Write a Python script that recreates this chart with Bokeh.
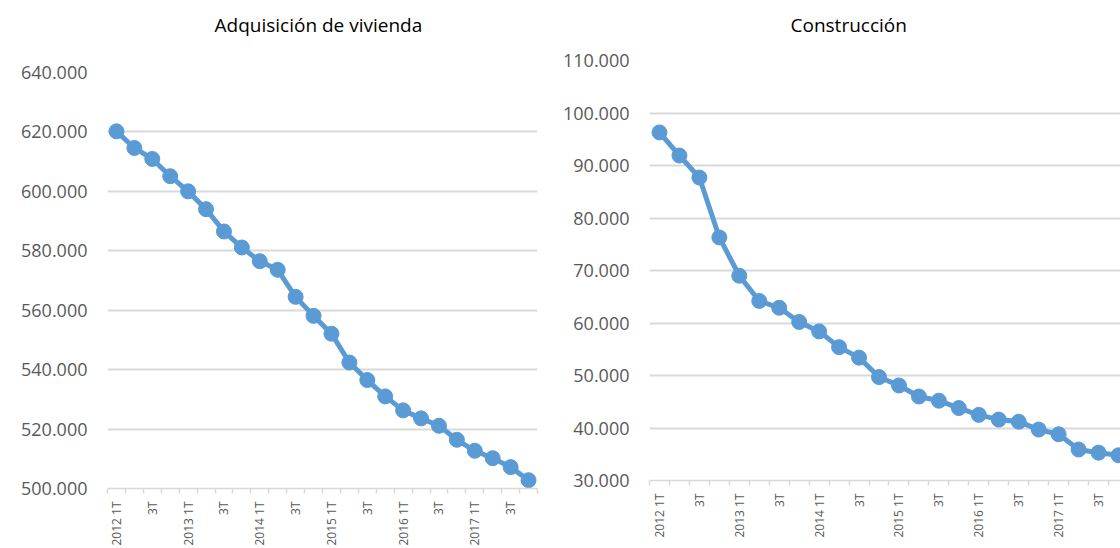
from bokeh.plotting import figure
from bokeh.layouts import row, column
from bokeh.models import FixedTicker, Range1d, Title
from bokeh.embed import file_html
from bokeh.resources import INLINE

# ---- data ----
quarters = []
for yr in ["2012", "2013", "2014", "2015", "2016", "2017"]:
    quarters += [yr + " 1T", "2T", "3T", "4T"]

adquisicion = [620200, 614600, 610900, 605100, 600000, 594000, 586500, 581100,
               576500, 573600, 564500, 558100, 552100, 542400, 536500, 531000,
               526300, 523600, 521100, 516400, 512700, 510200, 507200, 502800]

construccion = [96300, 91900, 87700, 76300, 69000, 64200, 62900, 60200,
                58400, 55400, 53400, 49700, 48100, 46000, 45200, 43800,
                42500, 41600, 41200, 39700, 38800, 35900, 35300, 34800]

left_yticks = [500000, 520000, 540000, 560000, 580000, 600000, 620000, 640000]
left_ylabels = ["500.000", "520.000", "540.000", "560.000", "580.000", "600.000", "620.000", "640.000"]
right_yticks = [30000, 40000, 50000, 60000, 70000, 80000, 90000, 100000, 110000]
right_ylabels = ["30.000", "40.000", "50.000", "60.000", "70.000", "80.000", "90.000", "100.000", "110.000"]

titles = ["Adquisición de vivienda", "Construcción"]

BLUE = "#5B9BD5"
GRID = "#D9D9D9"
LABEL = "#595959"
FONT = "Open Sans"

xs = list(range(len(quarters)))
xtick_pos = xs[::2]
xtick_labels = {i: quarters[i] for i in xtick_pos}

TITLE_PROPS = Title.properties()


def make_title(text, off, gap):
    kw = dict(text=text, align="left", offset=off, vertical_align="top", text_font=FONT,
              text_font_size="19px", text_font_style="normal", text_color="#000000")
    if "padding" in TITLE_PROPS:
        try:
            t = Title(**kw, padding=dict(left=0, right=0, top=0, bottom=gap))
            if "standoff" in TITLE_PROPS:
                t.standoff = 0
            return t
        except Exception:
            pass
    if "standoff" in TITLE_PROPS:
        kw["standoff"] = gap
    return Title(**kw)


def make(values, yticks, ylabels, title, width, height, xend, mb, t_off, t_gap):
    p = figure(width=width, height=height, output_backend="svg", toolbar_location=None,
               x_range=Range1d(-0.5, xend), y_range=Range1d(yticks[0], yticks[-1]),
               min_border_left=mb[0], min_border_right=mb[1],
               min_border_top=mb[2], min_border_bottom=mb[3])
    p.title = make_title(title, t_off, t_gap)
    p.outline_line_color = None
    p.background_fill_color = "white"
    p.border_fill_color = "white"

    p.line(xs, values, line_color=BLUE, line_width=5)
    p.scatter(xs, values, size=15, fill_color=BLUE, line_color=BLUE)

    p.xgrid.grid_line_color = None
    p.ygrid.grid_line_color = GRID
    p.ygrid.grid_line_width = 2
    p.ygrid.ticker = FixedTicker(ticks=yticks)

    ya = p.yaxis[0]
    ya.ticker = FixedTicker(ticks=yticks)
    ya.major_label_overrides = {t: l for t, l in zip(yticks, ylabels)}
    ya.axis_line_color = None
    ya.major_tick_line_color = None
    ya.minor_tick_line_color = None
    ya.major_tick_out = 0
    ya.major_tick_in = 0
    ya.minor_tick_out = 0
    ya.minor_tick_in = 0
    ya.major_label_standoff = 20
    ya.major_label_text_font = FONT
    ya.major_label_text_font_size = "18px"
    ya.major_label_text_color = LABEL

    xa = p.xaxis[0]
    xa.ticker = FixedTicker(ticks=xtick_pos, minor_ticks=[i - 0.5 for i in range(len(quarters) + 1)])
    xa.major_label_overrides = xtick_labels
    xa.major_label_orientation = 1.5708
    xa.axis_line_color = GRID
    xa.axis_line_width = 1.5
    xa.major_tick_line_color = None
    xa.major_tick_out = 0
    xa.major_tick_in = 0
    xa.minor_tick_line_color = GRID
    xa.minor_tick_out = 5
    xa.minor_tick_in = 0
    xa.minor_tick_line_width = 1.5
    xa.major_label_standoff = 8
    xa.major_label_text_font = FONT
    xa.major_label_text_font_size = "12px"
    xa.major_label_text_color = LABEL
    return p


p1 = make(adquisicion, left_yticks, left_ylabels, titles[0], 560, 548, 23.5,
          (107, 23, 72, 60), 107, 33)
p2 = make(construccion, right_yticks, right_ylabels, titles[1], 560, 548, 23.1,
          (88, 0, 60, 68), 141, 21)

layout = row(column(p1), column(p2), spacing=0)
open("out.html", "w").write(file_html(layout, INLINE))
